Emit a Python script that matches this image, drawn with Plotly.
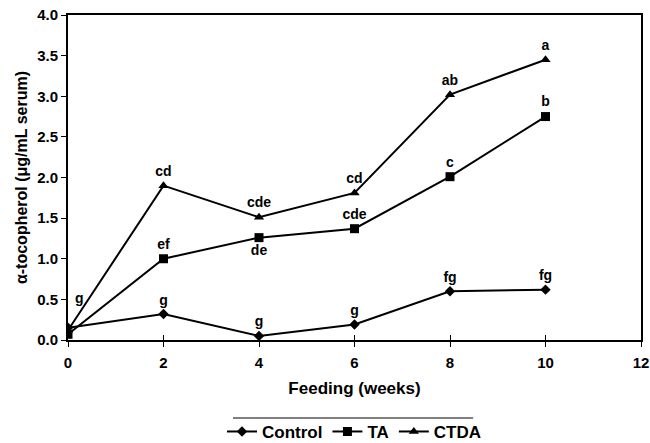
import plotly.graph_objects as go

weeks = [0, 2, 4, 6, 8, 10]
control = [0.15, 0.32, 0.05, 0.19, 0.60, 0.62]
ta = [0.07, 1.00, 1.26, 1.37, 2.01, 2.75]
ctda = [0.12, 1.90, 1.51, 1.81, 3.02, 3.45]

control_lbl = ["", "g", "g", "g", "fg", "fg"]
ta_lbl = ["", "ef", "de", "cde", "c", "b"]
ctda_lbl = ["", "cd", "cde", "cd", "ab", "a"]
start_lbl = "g"

control_pos = ["top right", "top center", "top center", "top center", "top center", "top center"]
ta_pos = ["top center", "top center", "bottom center", "top center", "top center", "top center"]
ctda_pos = ["top center"] * 6

FONT = "Liberation Sans, Arial, sans-serif"
tfont = dict(family=FONT, size=14, color="black", weight="bold")

fig = go.Figure()
fig.add_trace(go.Scatter(x=weeks, y=control, name="Control", mode="lines+markers+text",
                         text=control_lbl, textposition=control_pos, textfont=tfont,
                         line=dict(color="black", width=2),
                         marker=dict(symbol="diamond", size=8, color="black")))
fig.add_trace(go.Scatter(x=weeks, y=ta, name="TA", mode="lines+markers+text",
                         text=ta_lbl, textposition=ta_pos, textfont=tfont,
                         line=dict(color="black", width=2),
                         marker=dict(symbol="square", size=9, color="black")))
fig.add_trace(go.Scatter(x=weeks, y=ctda, name="CTDA", mode="lines+markers+text",
                         text=ctda_lbl, textposition=ctda_pos, textfont=tfont,
                         line=dict(color="black", width=2),
                         marker=dict(symbol="triangle-up", size=9, color="black")))
# dummy trace on overlay axis for inside x ticks
fig.add_trace(go.Scatter(x=[0], y=[0], xaxis="x2", showlegend=False, hoverinfo="skip",
                         mode="markers", marker=dict(opacity=0)))

fig.add_annotation(x=weeks[0], y=control[0], text=start_lbl, showarrow=False,
                   xanchor="left", yanchor="bottom", xshift=5, yshift=20, font=tfont)

axfont = dict(family=FONT, size=15, color="black", weight="bold")
fig.update_layout(
    width=650, height=443,
    margin=dict(l=68, r=9, t=15, b=103, autoexpand=False),
    paper_bgcolor="white", plot_bgcolor="white",
    font=dict(family=FONT, color="black"),
    xaxis=dict(range=[0, 12], tickvals=[0, 2, 4, 6, 8, 10, 12], ticks="outside", ticklen=5,
               tickcolor="black", tickwidth=1, showgrid=False, zeroline=False,
               showline=True, linecolor="black", linewidth=2, mirror=True,
               tickfont=axfont, ticklabelstandoff=3,
               title=dict(text="Feeding (weeks)", font=dict(family=FONT, size=17, color="black", weight="bold"),
                          standoff=12)),
    xaxis2=dict(range=[0, 12], tickvals=[0, 2, 4, 6, 8, 10, 12], ticks="inside", ticklen=5,
                tickcolor="black", overlaying="x", showticklabels=False, showgrid=False,
                zeroline=False, showline=False),
    yaxis=dict(range=[0, 4], tickvals=[0, 0.5, 1, 1.5, 2, 2.5, 3, 3.5, 4], tickformat=".1f",
               ticks="outside", ticklen=5, tickcolor="black", showgrid=False, zeroline=False,
               showline=True, linecolor="black", linewidth=2, mirror=True,
               tickfont=axfont,
               title=dict(text="α-tocopherol (μg/mL serum)",
                          font=dict(family=FONT, size=16, color="black", weight="bold"), standoff=6)),
    showlegend=True,
    legend=dict(orientation="h", x=0.5, xanchor="center", yref="container", y=0.025, yanchor="middle",
                font=dict(family=FONT, size=17, color="black", weight="bold"),
                itemwidth=30, tracegroupgap=0, bgcolor="rgba(0,0,0,0)"),
    shapes=[dict(type="line", xref="paper", yref="paper", x0=0.288, x1=0.707, y0=-0.24, y1=-0.24,
                 line=dict(color="black", width=1))],
)

fig.write_html("out.html")
